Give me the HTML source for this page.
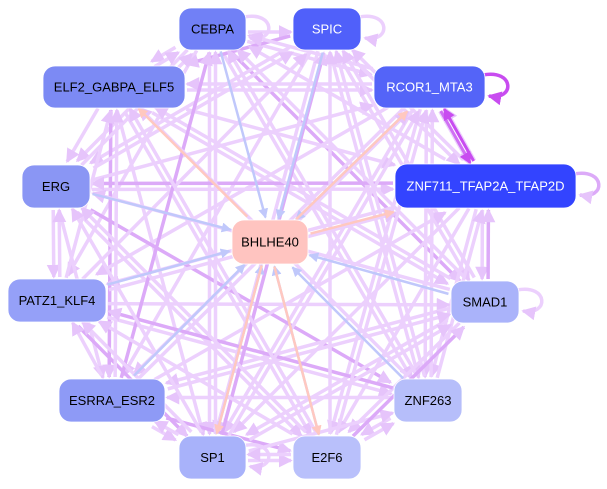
<!DOCTYPE html>
<html><head><meta charset="utf-8"><style>
html,body{margin:0;padding:0;background:#fff;width:607px;height:489px;overflow:hidden}
svg{position:absolute;left:0;top:0}
text{font-family:"Liberation Sans",sans-serif;font-size:13px;text-anchor:middle;dominant-baseline:central}
</style></head><body>
<svg id="s" width="607" height="489" xmlns="http://www.w3.org/2000/svg">
<defs>
<marker id="ml" markerWidth="4" markerHeight="4" refX="3.5" refY="2" orient="auto" markerUnits="strokeWidth"><path d="M0,0L4,2L0,4z" fill="#e6c4fb"/></marker>
<marker id="mb" markerWidth="4" markerHeight="4" refX="3.5" refY="2" orient="auto" markerUnits="strokeWidth"><path d="M0,0L4,2L0,4z" fill="#c0c8fb"/></marker>
<marker id="mp" markerWidth="4" markerHeight="4" refX="3.5" refY="2" orient="auto" markerUnits="strokeWidth"><path d="M0,0L4,2L0,4z" fill="#ffc8c0"/></marker>
<marker id="md" markerWidth="4" markerHeight="4" refX="3.5" refY="2" orient="auto" markerUnits="strokeWidth"><path d="M0,0L4,2L0,4z" fill="#c84cf0"/></marker>
</defs>
<g id="edges"></g>
<g id="nodes"></g>
</svg>
<script>
var N={
CEBPA:[179,8,67,42,"#7180f6","#000"],
SPIC:[293,8,68,42,"#5060fa","#fff"],
ELF2_GABPA_ELF5:[43,66,142,42,"#7c8af4","#000"],
RCOR1_MTA3:[374,66,111,42,"#5464f8","#fff"],
ERG:[22,165,68,43,"#8a96f4","#000"],
ZNF711_TFAP2A_TFAP2D:[395,164,181,44,"#3344ff","#fff"],
BHLHE40:[232,220,76,44,"#ffc4c0","#000"],
PATZ1_KLF4:[8,279,98,43,"#95a0f8","#000"],
SMAD1:[451,281,68,42,"#aab3fa","#000"],
ESRRA_ESR2:[59,379,106,43,"#8e9af6","#000"],
ZNF263:[394,379,68,43,"#b6befa","#000"],
SP1:[179,436,67,43,"#a8b2fa","#000"],
E2F6:[293,436,68,43,"#b9c0fb","#000"]};
var ns="http://www.w3.org/2000/svg",E=document.getElementById("edges"),G=document.getElementById("nodes");
function c(k){var n=N[k];return [n[0]+n[2]/2,n[1]+n[3]/2];}
function bd(k,dx,dy){var n=N[k];var hx=n[2]/2+2,hy=n[3]/2+2;var t=Math.min(hx/Math.abs(dx||1e-6),hy/Math.abs(dy||1e-6));return t;}
function line(a,b,col,m,w,off){var p=c(a),q=c(b);var dx=q[0]-p[0],dy=q[1]-p[1];var L=Math.hypot(dx,dy);var nx=-dy/L*off,ny=dx/L*off;
var t1=bd(a,dx,dy),t2=bd(b,dx,dy);
var l=document.createElementNS(ns,"line");
l.setAttribute("x1",p[0]+dx*t1+nx);l.setAttribute("y1",p[1]+dy*t1+ny);
l.setAttribute("x2",q[0]-dx*t2+nx);l.setAttribute("y2",q[1]-dy*t2+ny);
l.setAttribute("stroke",col);l.setAttribute("stroke-width",w);l.setAttribute("marker-end","url(#"+m+")");E.appendChild(l);}
var K=Object.keys(N).filter(function(k){return k!="BHLHE40"});
for(var i=0;i<K.length;i++)for(var j=0;j<K.length;j++){if(i==j)continue;
 var h=(i*13+j*7)%11; if(h<3)continue;
 var col=(h==5)?"#dcaaf8":"#ecd0fd";line(K[i],K[j],col,"ml",3.5,3);}
["CEBPA","SPIC","ERG","PATZ1_KLF4","ESRRA_ESR2","SP1","E2F6","ZNF263","SMAD1","RCOR1_MTA3"].forEach(function(k){line(k,"BHLHE40","#c0c8fb","mb",2.5,-2);});
["ELF2_GABPA_ELF5","ZNF711_TFAP2A_TFAP2D","SP1","E2F6","RCOR1_MTA3"].forEach(function(k){line("BHLHE40",k,"#ffc8c0","mp",2.5,2);});
line("RCOR1_MTA3","ZNF711_TFAP2A_TFAP2D","#d070f4","md",3,2);
line("ZNF711_TFAP2A_TFAP2D","RCOR1_MTA3","#c84cf0","md",3,2);
function loop(k,col,m){var n=N[k];var x=n[0]+n[2],y=n[1]+n[3]/2;var p=document.createElementNS(ns,"path");
p.setAttribute("d","M"+(x-2)+","+(y-12)+" C"+(x+30)+","+(y-18)+" "+(x+30)+","+(y+14)+" "+(x+4)+","+(y+9));
p.setAttribute("fill","none");p.setAttribute("stroke",col);p.setAttribute("stroke-width",3.5);p.setAttribute("marker-end","url(#"+m+")");E.appendChild(p);}
loop("SPIC","#ecd0fd","ml");loop("RCOR1_MTA3","#c84cf0","md");loop("ZNF711_TFAP2A_TFAP2D","#dcaaf8","ml");
loop("SMAD1","#ecd0fd","ml");loop("SP1","#ecd0fd","ml");loop("CEBPA","#ecd0fd","ml");
for(var k in N){var n=N[k];var r=document.createElementNS(ns,"rect");
r.setAttribute("x",n[0]);r.setAttribute("y",n[1]);r.setAttribute("width",n[2]);r.setAttribute("height",n[3]);
r.setAttribute("rx",12);r.setAttribute("fill",n[4]);r.setAttribute("stroke","#fff");r.setAttribute("stroke-width",0.8);G.appendChild(r);
var t=document.createElementNS(ns,"text");t.setAttribute("x",n[0]+n[2]/2);t.setAttribute("y",n[1]+n[3]/2);t.setAttribute("fill",n[5]);t.textContent=k;G.appendChild(t);}
</script>
</body></html>
